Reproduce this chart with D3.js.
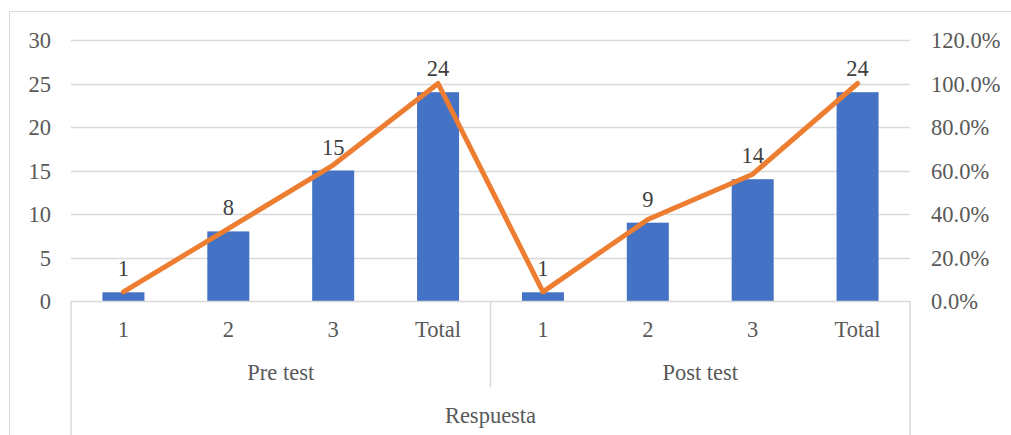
<!DOCTYPE html>
<html><head><meta charset="utf-8">
<script src="https://cdn.jsdelivr.net/npm/d3@7"></script>
<style>body{margin:0;background:#fff}svg{display:block}</style>
</head><body><svg id="c" width="1011" height="435" font-family="'Liberation Serif', 'DejaVu Serif', serif"></svg>
<script>
const groups = ["Pre test", "Post test"];
const categories = ["1", "2", "3", "Total"];
const counts = [1, 8, 15, 24, 1, 9, 14, 24];
const cumulativePct = [4.2, 33.3, 62.5, 100, 4.2, 37.5, 58.3, 100];
const leftTicks = [0, 5, 10, 15, 20, 25, 30];
const rightTicks = [0, 20, 40, 60, 80, 100, 120];
const axisTitle = "Respuesta";

const svg = d3.select("#c");
const L = 71, R = 910, T = 40, B = 301;
const keys = [];
groups.forEach((g, gi) => categories.forEach((c, ci) => keys.push(gi + "|" + c)));
const x = d3.scaleBand().domain(keys).range([L, R]).paddingInner(0.6).paddingOuter(0.3);
const xc = k => x(k) + x.bandwidth() / 2;
const y = d3.scaleLinear().domain([0, 30]).range([B, T]);
const y2 = d3.scaleLinear().domain([0, 120]).range([B, T]);
const fs = 22.5;
const txt = "#595959";

// outer border
svg.append("path").attr("d", `M9.5,435 V11.5 H1011`).attr("fill", "none").attr("stroke", "#d9d9d9").attr("stroke-width", 1);

// gridlines
svg.append("g").selectAll("line").data(leftTicks.slice(1)).join("line")
  .attr("x1", L).attr("x2", R).attr("y1", d => Math.round(y(d)) + 0.5).attr("y2", d => Math.round(y(d)) + 0.5)
  .attr("stroke", "#d9d9d9").attr("stroke-width", 1.5);

// left axis labels
svg.append("g").selectAll("text").data(leftTicks).join("text")
  .attr("x", 51).attr("y", d => y(d) + 8).attr("text-anchor", "end").attr("font-size", fs).attr("fill", txt).text(d => d);
// right axis labels
svg.append("g").selectAll("text").data(rightTicks).join("text")
  .attr("x", 931).attr("y", d => y2(d) + 8).attr("text-anchor", "start").attr("font-size", fs).attr("fill", txt).text(d => d3.format(".1f")(d) + "%");

// bars
const bw = 42;
svg.append("g").selectAll("rect").data(counts).join("rect")
  .attr("x", (d, i) => xc(keys[i]) - bw / 2).attr("width", bw)
  .attr("y", d => y(d)).attr("height", d => B - y(d)).attr("fill", "#4472C4");

// category axis
const ax = svg.append("g").attr("stroke", "#d9d9d9").attr("stroke-width", 1.5);
ax.append("line").attr("x1", L).attr("x2", R).attr("y1", B + 0.5).attr("y2", B + 0.5);
const gEdges = [L, (xc(keys[3]) + xc(keys[4])) / 2, R];
ax.append("line").attr("x1", L).attr("x2", L).attr("y1", B).attr("y2", 435);
ax.append("line").attr("x1", R).attr("x2", R).attr("y1", B).attr("y2", 435);
ax.append("line").attr("x1", gEdges[1]).attr("x2", gEdges[1]).attr("y1", B).attr("y2", 387);

svg.append("g").selectAll("text").data(keys).join("text")
  .attr("x", d => xc(d)).attr("y", 337).attr("text-anchor", "middle").attr("font-size", fs).attr("fill", txt)
  .text(d => d.split("|")[1]);
svg.append("g").selectAll("text").data(groups).join("text")
  .attr("x", (d, i) => (gEdges[i] + gEdges[i + 1]) / 2).attr("y", 380).attr("text-anchor", "middle").attr("font-size", fs).attr("fill", txt).text(d => d);
svg.append("text").attr("x", (L + R) / 2).attr("y", 423).attr("text-anchor", "middle").attr("font-size", fs).attr("fill", txt).text(axisTitle);

// line
const line = d3.line().x((d, i) => xc(keys[i])).y(d => y2(d));
svg.append("path").datum(cumulativePct).attr("d", line).attr("fill", "none")
  .attr("stroke", "#ED7D31").attr("stroke-width", 5).attr("stroke-linecap", "round").attr("stroke-linejoin", "round");

// data labels
svg.append("g").selectAll("text").data(counts).join("text")
  .attr("x", (d, i) => xc(keys[i])).attr("y", d => y(d) - 16).attr("text-anchor", "middle")
  .attr("font-size", fs).attr("fill", "#404040").text(d => d);
</script></body></html>
